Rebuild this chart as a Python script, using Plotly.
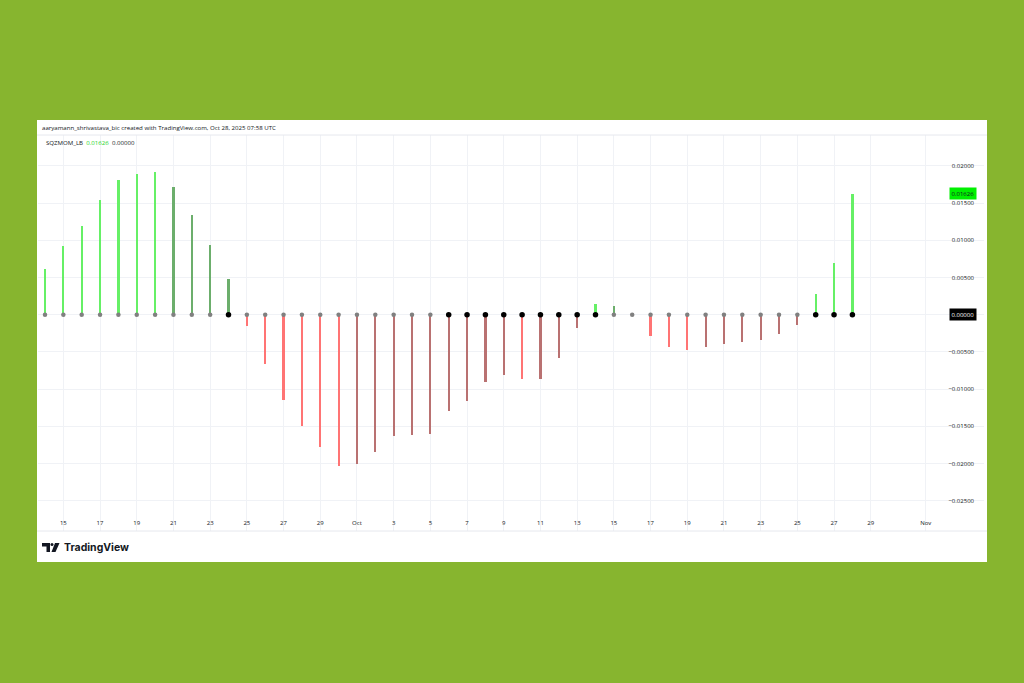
import pandas as pd
import plotly.graph_objects as go

# ---------------- data ----------------
dates = pd.date_range("2025-09-14", "2025-10-28", freq="D")
momentum = [
    0.0062, 0.0092, 0.0119, 0.0154, 0.0181, 0.0189, 0.0192, 0.0172, 0.0134, 0.0093,
    0.0048, -0.0015, -0.0066, -0.0115, -0.0149, -0.0178, -0.0203,
    -0.0201, -0.0185, -0.0163, -0.0162, -0.0160, -0.0130, -0.0116, -0.0091, -0.0081,
    -0.0087, -0.0086, -0.0058, -0.0018, 0.0015, 0.0012, -0.0001, -0.0028, -0.0043,
    -0.0048, -0.0044, -0.0039, -0.0037, -0.0034, -0.0026, -0.0014, 0.0028, 0.0070,
    0.01626,
]
# squeeze state per bar: 1 = squeeze on (black dot), 0 = off (gray dot)
squeeze_on = [
    0, 0, 0, 0, 0, 0, 0, 0, 0, 0,
    1, 0, 0, 0, 0, 0, 0,
    0, 0, 0, 0, 0, 1, 1, 1, 1,
    1, 1, 1, 1, 1, 0, 0, 0, 0,
    0, 0, 0, 0, 0, 0, 0, 1, 1,
    1,
]
x_tick_dates = ["2025-09-15", "2025-09-17", "2025-09-19", "2025-09-21", "2025-09-23",
                "2025-09-25", "2025-09-27", "2025-09-29", "2025-10-01", "2025-10-03",
                "2025-10-05", "2025-10-07", "2025-10-09", "2025-10-11", "2025-10-13",
                "2025-10-15", "2025-10-17", "2025-10-19", "2025-10-21", "2025-10-23",
                "2025-10-25", "2025-10-27", "2025-10-29", "2025-11-01"]
x_tick_text = ["15", "17", "19", "21", "23", "25", "27", "29", "Oct", "3", "5", "7", "9",
               "11", "13", "15", "17", "19", "21", "23", "25", "27", "29", "Nov"]
y_ticks = [0.02, 0.015, 0.01, 0.005, 0.0, -0.005, -0.01, -0.015, -0.02, -0.025]
last_value = 0.01626
signal_value = 0.0

# ---------------- styling ----------------
LIME = "#66f066"
GREEN = "#6cae6c"
RED = "#ff7474"
MAROON = "#b97171"
BG_GREEN = "#87b52f"
FONT = "Open Sans"

colors = []
prev = None
for v in momentum:
    if v > 0:
        c = LIME if (prev is None or v > prev) else GREEN
    else:
        c = RED if (prev is None or v < prev) else MAROON
    colors.append(c)
    prev = v

dot_colors = ["#000000" if s else "#808080" for s in squeeze_on]
dot_sizes = [5.5 if s else 4.5 for s in squeeze_on]

W, H = 1024, 683
PL, PR, PT, PB = 38, 984, 135, 531   # plot area pixel bounds
px_per_day = 18.35
first_px = 45
zero_px = 314.7
px_per_unit = 7444.0

x0 = dates[0] + pd.Timedelta(days=(PL - first_px) / px_per_day)
x1 = dates[0] + pd.Timedelta(days=(PR - first_px) / px_per_day)
y_top = (zero_px - PT) / px_per_unit
y_bot = -(PB - zero_px) / px_per_unit


def fx(px):
    return (px - PL) / (PR - PL)


def fy(py):
    return (PB - py) / (PB - PT)


fig = go.Figure()
fig.add_trace(go.Bar(
    x=dates, y=momentum, marker=dict(color=colors, line=dict(width=0)),
    width=2.2 / px_per_day * 86400000, hoverinfo="x+y", showlegend=False,
))
fig.add_trace(go.Scatter(
    x=dates, y=[0] * len(dates), mode="markers",
    marker=dict(color=dot_colors, size=dot_sizes, line=dict(width=0), opacity=1),
    showlegend=False, hoverinfo="skip",
))

shapes = [
    # green frame around the white panel
    dict(type="rect", xref="paper", yref="paper", x0=fx(0), x1=fx(W), y0=fy(0), y1=fy(120),
         fillcolor=BG_GREEN, line_width=0, layer="above"),
    dict(type="rect", xref="paper", yref="paper", x0=fx(0), x1=fx(W), y0=fy(562), y1=fy(H),
         fillcolor=BG_GREEN, line_width=0, layer="above"),
    dict(type="rect", xref="paper", yref="paper", x0=fx(0), x1=fx(37), y0=fy(0), y1=fy(H),
         fillcolor=BG_GREEN, line_width=0, layer="above"),
    dict(type="rect", xref="paper", yref="paper", x0=fx(987), x1=fx(W), y0=fy(0), y1=fy(H),
         fillcolor=BG_GREEN, line_width=0, layer="above"),
    # separators
    dict(type="line", xref="paper", yref="paper", x0=fx(37), x1=fx(987), y0=fy(135), y1=fy(135),
         line=dict(color="#e6e8ee", width=1)),
    dict(type="line", xref="paper", yref="paper", x0=fx(37), x1=fx(987), y0=fy(531), y1=fy(531),
         line=dict(color="#e6e8ee", width=1)),
    # TradingView logo
    dict(type="path", xref="paper", yref="paper",
         path=f"M {fx(42)},{fy(543)} L {fx(50)},{fy(543)} L {fx(50)},{fy(552)} L {fx(46.5)},{fy(552)} "
              f"L {fx(46.5)},{fy(546.5)} L {fx(42)},{fy(546.5)} Z",
         fillcolor="#131722", line_width=0),
    dict(type="circle", xref="paper", yref="paper", x0=fx(50.5), x1=fx(53.5), y0=fy(543), y1=fy(546),
         fillcolor="#131722", line_width=0),
    dict(type="path", xref="paper", yref="paper",
         path=f"M {fx(55)},{fy(543)} L {fx(59.5)},{fy(543)} L {fx(55.5)},{fy(552)} L {fx(51.5)},{fy(552)} Z",
         fillcolor="#131722", line_width=0),
]

annotations = [
    dict(xref="paper", yref="paper", x=fx(40), y=fy(127), xanchor="left", yanchor="middle",
         text="aaryamann_shrivastava_bic created with TradingView.com, Oct 28, 2025 07:58 UTC",
         showarrow=False, font=dict(family=FONT, size=6.1, color="#131722")),
    dict(xref="paper", yref="paper", x=fx(44), y=fy(142.5), xanchor="left", yanchor="middle",
         text=("SQZMOM_LB  <span style='color:#22d422'>" + f"{last_value:.5f}" +
               "</span>  " + f"{signal_value:.5f}"),
         showarrow=False, font=dict(family=FONT, size=6.1, color="#131722")),
    dict(xref="paper", yref="y", x=fx(977), y=last_value, xanchor="right", yanchor="middle",
         text=f"{last_value:.5f}", showarrow=False, bgcolor="#00f000", borderpad=1.5,
         font=dict(family=FONT, size=6, color="#131722")),
    dict(xref="paper", yref="y", x=fx(977), y=signal_value, xanchor="right", yanchor="middle",
         text=f"{signal_value:.5f}", showarrow=False, bgcolor="#000000", borderpad=1.5,
         font=dict(family=FONT, size=6, color="#ffffff")),
    dict(xref="paper", yref="paper", x=fx(62), y=fy(547.5), xanchor="left", yanchor="middle",
         text="<b>TradingView</b>", showarrow=False,
         font=dict(family="Inter", size=10.5, color="#131722")),
]

fig.update_layout(
    width=W, height=H,
    margin=dict(l=PL, r=W - PR, t=PT, b=H - PB, pad=0),
    paper_bgcolor="#ffffff", plot_bgcolor="#ffffff",
    bargap=0, showlegend=False,
    shapes=shapes, annotations=annotations,
    font=dict(family=FONT, size=6, color="#131722"),
    xaxis=dict(
        type="date", range=[x0, x1], tickmode="array", tickvals=x_tick_dates, ticktext=x_tick_text,
        ticklabelposition="inside", ticks="", showgrid=True, gridcolor="#f0f2f6", gridwidth=1,
        zeroline=False, showline=False, tickfont=dict(size=6, color="#131722"),
        ticklabelstandoff=2,
    ),
    yaxis=dict(
        range=[y_bot, y_top], side="right", tickmode="array", tickvals=y_ticks,
        ticktext=[f"{v:.5f}".replace("-", "\u2212") if v != 0 else "" for v in y_ticks],
        ticklabelposition="inside", ticks="", showgrid=True, gridcolor="#f0f2f6", gridwidth=1,
        zeroline=False, showline=False, tickfont=dict(size=6, color="#131722"),
        ticklabelstandoff=7,
    ),
)

fig.write_html("out.html", config={"displayModeBar": False})

# remove the browser's default page margin so the figure sits at (0, 0)
with open("out.html", "r", encoding="utf-8") as f:
    html = f.read()
html = html.replace("<head>", "<head><style>html,body{margin:0;padding:0;overflow:hidden;}</style>", 1)
with open("out.html", "w", encoding="utf-8") as f:
    f.write(html)
